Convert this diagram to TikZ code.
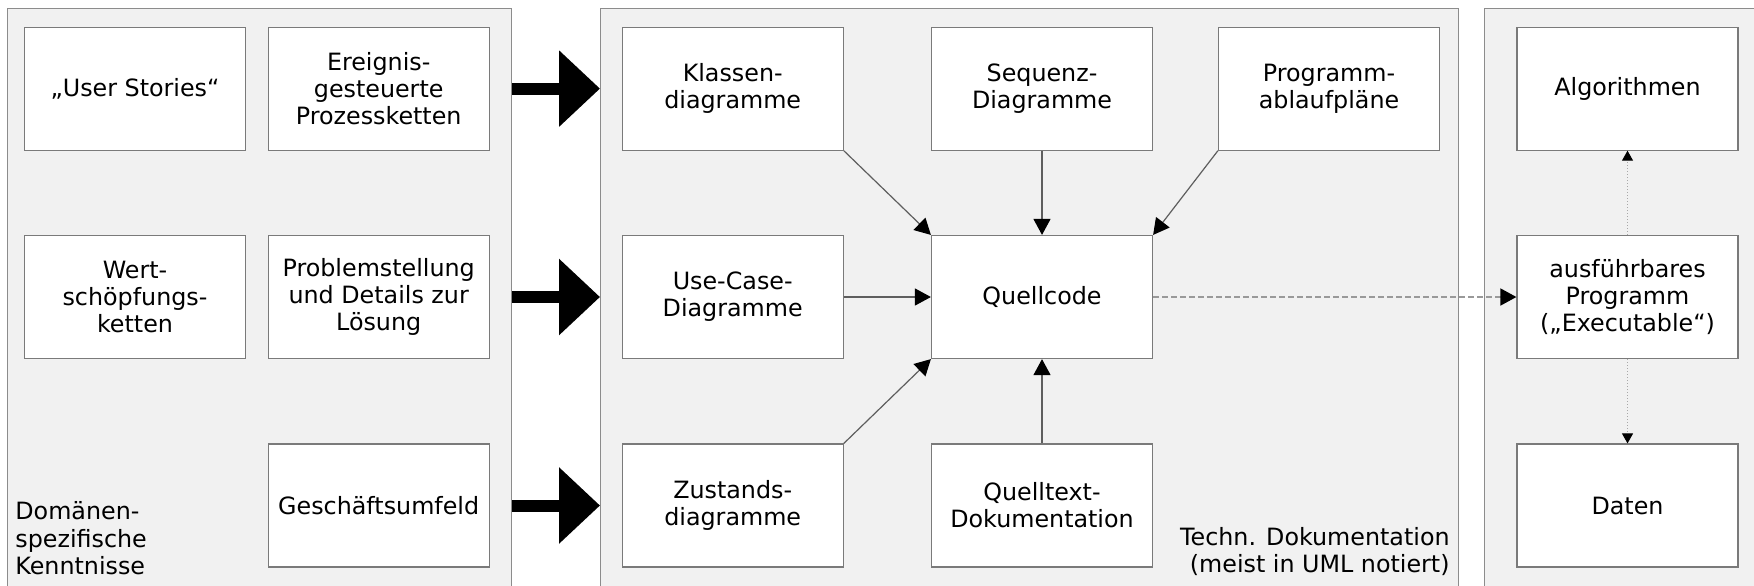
\documentclass[tikz,border=0pt]{standalone}
\usepackage{fontspec}
\setmainfont{DejaVu Sans}
\usetikzlibrary{arrows.meta}
\definecolor{panelfill}{HTML}{F1F1F1}
\definecolor{panelline}{HTML}{8C8C8C}
\definecolor{boxline}{HTML}{7A7A7A}
\definecolor{linkline}{HTML}{5E5E5E}
\definecolor{dashline}{HTML}{999999}
\definecolor{dotline}{HTML}{A8A8A8}

\begin{document}
\begin{tikzpicture}[x=0.5pt,y=-0.5pt,
  txt/.style={font=\fontsize{11.9}{13.6}\selectfont},
  panel/.style={draw=panelline, fill=panelfill, line width=0.6pt, anchor=north west, inner sep=0pt},
  card/.style={txt, draw=boxline, fill=white, line width=0.6pt, minimum width=110.5pt,
    minimum height=61.5pt, inner sep=0pt, align=center},
  link/.style={draw=linkline, line width=0.6pt, -{Triangle[length=8pt,width=8.5pt,color=black]}},
  dashlink/.style={draw=dashline, line width=0.75pt, dash pattern=on 2.75pt off 1.75pt,
    -{Triangle[length=8pt,width=8.5pt,color=black]}},
  dotlink/.style={draw=dotline, line width=0.5pt, dash pattern=on 0.5pt off 1pt,
    -{Triangle[length=5pt,width=5.5pt,color=black]}},
  bigarrow/.style={draw=black, line width=6pt, -{Triangle[length=20.5pt,width=37pt]}}
]
\useasboundingbox (0,0) rectangle (1754,585);
\clip (0,0) rectangle (1754,585);

% three panels, open towards the bottom edge
\node[panel, minimum width=252pt, minimum height=330pt] (domain) at (7,8) {};
\node[panel, minimum width=428.75pt, minimum height=330pt] (techdoc) at (600,8) {};
\node[panel, minimum width=160pt, minimum height=330pt] (runtime) at (1484,8) {};

% domain knowledge
\node[card] (stories)  at (135,88.6)   {„User Stories“};
\node[card] (epk)      at (378.7,88.6) {Ereignis-\\gesteuerte\\Prozessketten};
\node[card] (wert)     at (135,297)    {Wert-\\schöpfungs-\\ketten};
\node[card] (problem)  at (378.7,297)  {Problemstellung\\und Details zur\\Lösung};
\node[card] (umfeld)   at (378.7,505.5){Geschäftsumfeld};
\node[txt, anchor=south west, align=left, inner sep=0pt] (domlabel) at (15,575)
  {Domänen-\\spezifische\\Kenntnisse};

% technical documentation
\node[card] (klassen)   at (732.7,88.6) {Klassen-\\diagramme};
\node[card] (sequenz)   at (1042,88.6)  {Sequenz-\\Diagramme};
\node[card] (programm)  at (1329,88.6)  {Programm-\\ablaufpläne};
\node[card] (usecase)   at (732.7,297)  {Use-Case-\\Diagramme};
\node[card] (quell)     at (1042,297)   {Quellcode};
\node[card] (zustand)   at (732.7,505.5){Zustands-\\diagramme};
\node[card] (quelltext) at (1042,505.5) {Quelltext-\\Dokumentation};
\node[txt, anchor=south east, align=right, inner sep=0pt] (techlabel) at (1450,576)
  {Techn. Dokumentation\\(meist in UML notiert)};

% executable
\node[card] (algo)  at (1627.5,88.6)  {Algorithmen};
\node[card] (exe)   at (1627.5,297)   {ausführbares\\Programm\\(„Executable“)};
\node[card] (daten) at (1627.5,505.5) {Daten};

% big transfer arrows between the panels
\draw[bigarrow] (domain.east |- epk.east)     -- (techdoc.west |- epk.east);
\draw[bigarrow] (domain.east |- problem.east) -- (techdoc.west |- problem.east);
\draw[bigarrow] (domain.east |- umfeld.east)  -- (techdoc.west |- umfeld.east);

% everything feeds the source code
\draw[link] (klassen.south east) -- (quell.north west);
\draw[link] (sequenz.south)      -- (quell.north);
\draw[link] (programm.south west) -- (quell.north east);
\draw[link] (usecase.east)       -- (quell.west);
\draw[link] (zustand.north east) -- (quell.south west);
\draw[link] (quelltext.north)    -- (quell.south);

% build and run
\draw[dashlink] (quell.east) -- (exe.west);
\draw[dotlink] (exe.north) -- (algo.south);
\draw[dotlink] (exe.south) -- (daten.north);
\end{tikzpicture}
\end{document}
